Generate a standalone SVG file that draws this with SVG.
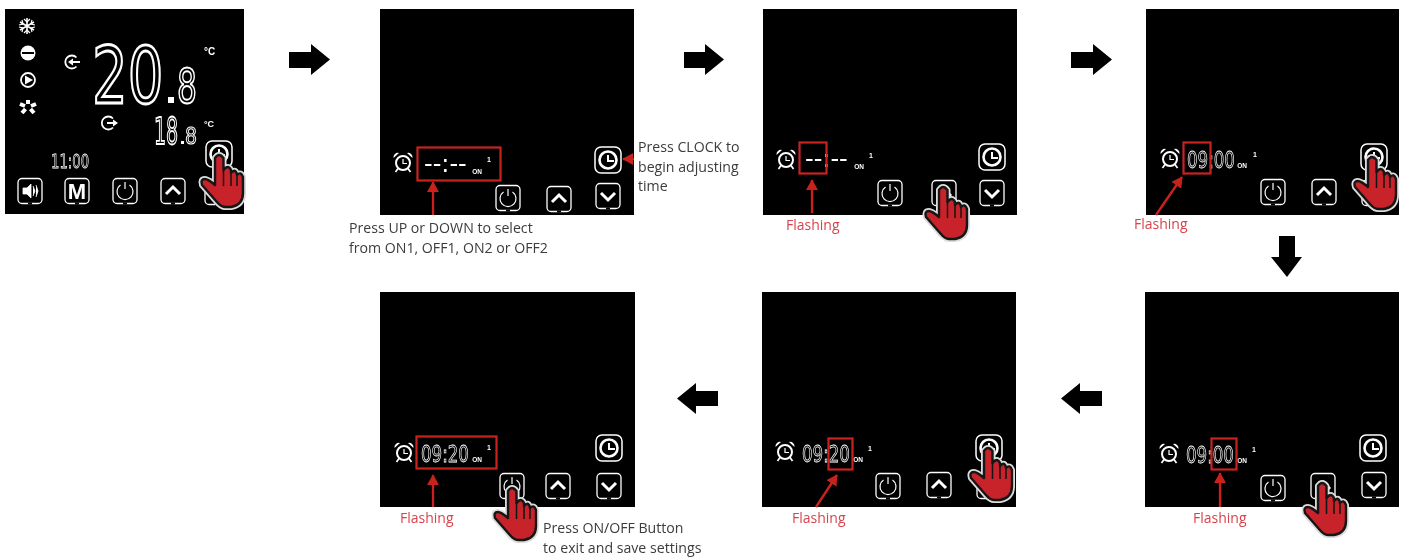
<svg xmlns="http://www.w3.org/2000/svg" width="1403" height="559" viewBox="0 0 1403 559">
<style>
.panel{fill:#000}
.box{fill:none;stroke:#c9221f;stroke-width:2.2}
.red{stroke:#c9221f;stroke-width:2.4;fill:none}
.lbl{font-family:"Open Sans","Liberation Sans",sans-serif;font-size:14.15px;fill:#3c3c3c}
.fl{font-family:"Open Sans","Liberation Sans",sans-serif;font-size:14px;fill:#d8434c}
.lcd{font-family:"DejaVu Sans",sans-serif;fill:#000;stroke:#fff;stroke-width:.8}
.dash{font-family:"DejaVu Sans",sans-serif;fill:#fff;font-size:24px}
.sm{font-family:"Liberation Sans",sans-serif;fill:#fff;font-weight:bold}
.w{fill:none;stroke:#fff}
</style>
<defs>
<filter id="soft" x="0" y="0" width="100%" height="100%"><feGaussianBlur stdDeviation="0.4"/></filter>
<marker id="ra" markerWidth="5" markerHeight="5" refX="4.2" refY="2.5" orient="auto" markerUnits="strokeWidth"><path d="M0,0L4.5,2.5L0,5Z" fill="#c9221f"/></marker>
<g id="frame"><rect x="-12" y="-12.500" width="24" height="25" rx="4" class="w" stroke-width="1.300"/><path d="M-2,12.500H2" stroke="#000" stroke-width="2"/></g>
<g id="power"><use href="#frame"/><path d="M-4.500,-6A8,8 0 1 0 4.500,-6M0,-9V-2" class="w" stroke-width="1.200"/></g>
<g id="up"><use href="#frame"/><path d="M-7,3L0,-4L7,3" class="w" stroke-width="3"/></g>
<g id="down"><use href="#frame"/><path d="M-7,-3L0,4L7,-3" class="w" stroke-width="3"/></g>
<g id="clock"><rect x="-13" y="-13" width="26" height="26" rx="6" class="w" stroke-width="1.500"/><circle r="8.500" class="w" stroke-width="2.600"/><path d="M0,-5V1H6" class="w" stroke-width="2"/></g>
<g id="alarm"><circle cy="1" r="7" class="w" stroke-width="2"/><path d="M0,-3V1.500H4" class="w" stroke-width="1.200"/><path d="M-9.500,-4A4.500,4.500 0 0 1 -4,-9ZM9.500,-4A4.500,4.500 0 0 0 4,-9Z" fill="#fff"/><path d="M-5,6.500L-7.500,10M5,6.500L7.500,10" class="w" stroke-width="1.700"/></g>
<g id="hand">
<path id="hs" d="M-4,3Q0,-3 4.500,3L4.500,15Q9,9 12,15L12,18Q16,13 18,19L18,20Q22,16 24,22L24,38Q24,50 12,52L6,52Q2,52 -3,46L-17,30Q-19,24 -14,24Q-11,24 -4,30Z" fill="none" stroke="#ddd" stroke-width="6" stroke-linejoin="round"/>
<path d="M-4,3Q0,-3 4.500,3L4.500,15Q9,9 12,15L12,18Q16,13 18,19L18,20Q22,16 24,22L24,38Q24,50 12,52L6,52Q2,52 -3,46L-17,30Q-19,24 -14,24Q-11,24 -4,30Z" fill="#c8202a" stroke="#141414" stroke-width="2.400" stroke-linejoin="round"/>
<path d="M4.500,15V31M12,18V31M18,20V31" stroke="#141414" stroke-width="1.500" fill="none"/>
</g>
</defs>
<rect width="1403" height="559" fill="#fff"/>
<g filter="url(#soft)">

<g id="panel-1">
<rect class="panel" x="5" y="9" width="239" height="205"/>
<g fill="none" stroke="#fff">
<path d="M27,18V34M20,22L34,30M34,22L20,30" stroke-width="1.600"/>
<path d="M24,19L27,22L30,19M24,33L27,30L30,33M19,25L23,24L22,20M35,25L31,24L32,20M19,27L23,28L22,32M35,27L31,28L32,32" stroke-width="1.200"/>
<circle cx="28" cy="80" r="7" stroke-width="1.800"/>
<path d="M28,104V100M31,106L36,104M30.500,109L34,113M25.500,109L22,113M25,106L20,104" stroke-width="4"/>
<path d="M76.500,57.500A6.500,6.500 0 1 0 76.500,66.500M72,62H80" stroke-width="1.800"/>
<path d="M113,118.500A6.500,6.500 0 1 0 113,127.500M107,123H113" stroke-width="1.800"/>
</g>
<circle cx="28" cy="53" r="7.500" fill="#fff"/><rect x="22" y="52" width="12" height="2" fill="#000"/>
<path d="M25,75.500L33,80L25,84.500Z" fill="#fff"/>
<path d="M68,62L73,58.500V65.500ZM118,123L113,119.500V126.500Z" fill="#fff"/>
<text class="lcd" transform="translate(92,103) scale(.72,1)" font-size="78" style="stroke-width:2.800">20</text>
<rect x="168" y="97" width="6" height="6" fill="#fff"/>
<text class="lcd" transform="translate(177,103) scale(.655,1)" font-size="48" style="stroke-width:2">8</text>
<text class="lcd" transform="translate(154,144) scale(.5,1)" font-size="38" style="stroke-width:1.800">18</text>
<rect x="181" y="141" width="3" height="3" fill="#fff"/>
<text class="lcd" transform="translate(185,144) scale(.82,1)" font-size="23" style="stroke-width:1.100">8</text>
<text class="sm" x="204" y="55" font-size="10">°C</text>
<text class="sm" x="204" y="127" font-size="9">°C</text>
<text class="lcd" transform="translate(51,168) scale(.66,1)" font-size="20">11:00</text>
<g transform="translate(30,191)"><use href="#frame"/><path d="M-7,-3H-3L1,-7V7L-3,3H-7ZM3,-5L5,0L3,5M6,-6L8,0L6,6" fill="#fff" stroke="#fff" stroke-width=".8"/></g>
<g transform="translate(77,191)"><use href="#frame"/><text class="sm" x="0" y="8" font-size="22" text-anchor="middle">M</text></g>
<use href="#power" x="125" y="191"/><use href="#up" x="173" y="191"/><use href="#down" x="217" y="192"/><use href="#clock" x="219" y="154"/>
<use href="#hand" x="219" y="155"/>
</g>

<g id="panel-2">
<rect class="panel" x="380" y="9" width="254" height="206"/>
<use href="#alarm" x="403" y="162"/>
<text class="dash" x="424" y="171.500">--:--</text>
<text class="sm" x="477" y="174" font-size="6.500" text-anchor="middle">ON</text>
<text class="sm" x="489" y="162" font-size="7" text-anchor="middle">1</text>
<use href="#power" x="508" y="198"/><use href="#up" x="559" y="199"/><use href="#down" x="608" y="196"/><use href="#clock" x="608" y="160"/>
<rect class="box" x="417.500" y="147.500" width="83" height="33"/>
<text class="lbl" x="349" y="233">Press UP or DOWN to select</text>
<text class="lbl" x="349" y="253">from ON1, OFF1, ON2 or OFF2</text>
<text class="lbl" x="638" y="152">Press CLOCK to</text>
<text class="lbl" x="638" y="172">begin adjusting</text>
<text class="lbl" x="638" y="191">time</text>
</g>

<g id="panel-3">
<rect class="panel" x="763" y="9" width="254" height="206"/>
<use href="#alarm" x="786" y="159"/>
<text class="dash" x="805" y="166.500">--:--</text>
<text class="sm" x="859" y="169" font-size="6.500" text-anchor="middle">ON</text>
<text class="sm" x="871" y="158" font-size="7" text-anchor="middle">1</text>
<use href="#power" x="890" y="193"/><use href="#up" x="944" y="193"/><use href="#down" x="992" y="193"/><use href="#clock" x="992" y="157"/>
<rect class="box" x="799.500" y="142.500" width="27" height="31"/>
<use href="#hand" x="943" y="187"/>
<text class="fl" x="786" y="230">Flashing</text>
</g>

<g id="panel-4">
<rect class="panel" x="1146" y="9" width="253" height="206"/>
<use href="#alarm" x="1170" y="158"/>
<text class="lcd" transform="translate(1187,168) scale(.724,1)" font-size="23">09:00</text>
<text class="sm" x="1242" y="168" font-size="6.500" text-anchor="middle">ON</text>
<text class="sm" x="1255" y="157" font-size="7" text-anchor="middle">1</text>
<use href="#power" x="1273" y="192"/><use href="#up" x="1324" y="192"/><use href="#down" x="1374" y="193"/><use href="#clock" x="1374" y="157"/>
<rect class="box" x="1183.500" y="142.500" width="27" height="31"/>
<use href="#hand" x="1372" y="157"/>
<text class="fl" x="1134" y="229">Flashing</text>
</g>

<g id="panel-5">
<rect class="panel" x="1145" y="292" width="254" height="215"/>
<use href="#alarm" x="1169" y="453"/>
<text class="lcd" transform="translate(1186,463) scale(.724,1)" font-size="23">09:00</text>
<text class="sm" x="1242" y="463" font-size="6.500" text-anchor="middle">ON</text>
<text class="sm" x="1254" y="452" font-size="7" text-anchor="middle">1</text>
<use href="#power" x="1273" y="488"/><use href="#up" x="1323" y="486"/><use href="#down" x="1374" y="485"/><use href="#clock" x="1373" y="448"/>
<rect class="box" x="1211.500" y="438.500" width="25" height="31"/>
<use href="#hand" x="1322" y="483"/>
<text class="fl" x="1193" y="523">Flashing</text>
</g>

<g id="panel-6">
<rect class="panel" x="762" y="292" width="254" height="215"/>
<use href="#alarm" x="785" y="451"/>
<text class="lcd" transform="translate(802,462) scale(.724,1)" font-size="23">09:20</text>
<text class="sm" x="858" y="462" font-size="6.500" text-anchor="middle">ON</text>
<text class="sm" x="870" y="451" font-size="7" text-anchor="middle">1</text>
<use href="#power" x="888" y="486"/><use href="#up" x="939" y="485"/><use href="#down" x="989" y="486"/><use href="#clock" x="989" y="448"/>
<rect class="box" x="828.500" y="438.500" width="24" height="31"/>
<use href="#hand" x="988" y="448"/>
<text class="fl" x="792" y="523">Flashing</text>
</g>

<g id="panel-7">
<rect class="panel" x="380" y="292" width="255" height="215"/>
<use href="#alarm" x="404" y="452"/>
<text class="lcd" transform="translate(421,462) scale(.724,1)" font-size="23">09:20</text>
<text class="sm" x="477" y="462" font-size="6.500" text-anchor="middle">ON</text>
<text class="sm" x="489" y="450" font-size="7" text-anchor="middle">1</text>
<use href="#power" x="512" y="486"/><use href="#up" x="558" y="486"/><use href="#down" x="609" y="486"/><use href="#clock" x="609" y="448"/>
<rect class="box" x="416.500" y="436.500" width="80" height="32"/>
<use href="#hand" x="512" y="488"/>
<text class="fl" x="400" y="523">Flashing</text>
<text class="lbl" x="543" y="533">Press ON/OFF Button</text>
<text class="lbl" x="543" y="553">to exit and save settings</text>
</g>

<g id="connectors">
<g fill="#000">
<path d="M289,52H311V44L330,59.500L311,75V68H289Z"/>
<path d="M684,52H705V44L724,59.500L705,75V68H684Z"/>
<path d="M1071,52H1093V44L1112,59.500L1093,75V68H1071Z"/>
<path d="M1279,236H1295V257H1302L1287,277L1271,257H1279Z"/>
<path d="M1102,391H1080V383L1061,398.500L1080,414V406H1102Z"/>
<path d="M718,391H696V383L677,398.500L696,414V406H718Z"/>
</g>
<g class="red">
<path d="M433,215V182" marker-end="url(#ra)"/>
<path d="M634,159H623" marker-end="url(#ra)"/>
<path d="M812,213V180" marker-end="url(#ra)"/>
<path d="M1156,215L1182,177" marker-end="url(#ra)"/>
<path d="M1220,507V473" marker-end="url(#ra)"/>
<path d="M816,507L837,475" marker-end="url(#ra)"/>
<path d="M433,507V475" marker-end="url(#ra)"/>
</g>
</g>
</g>
</svg>
